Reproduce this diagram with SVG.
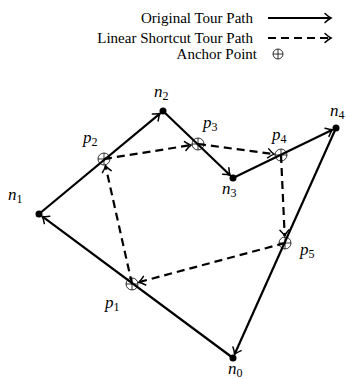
<svg xmlns="http://www.w3.org/2000/svg" width="346" height="379" viewBox="0 0 346 379">
<style>
text{font-family:'Liberation Serif','DejaVu Serif','Times New Roman',Times,serif}
.t{font-size:15px;fill:#000}
.m{font-size:17px;font-style:italic;fill:#000}
.s{font-size:12px;font-style:normal}
.e{stroke:#000;stroke-width:2.2;fill:none;marker-end:url(#ah)}
.d{stroke:#000;stroke-width:2.2;fill:none;stroke-dasharray:8 5;marker-end:url(#ah)}
.a{stroke:#000;stroke-width:0.8;fill:none}
.n{fill:#000}
</style>
<defs>
<marker id="ah" markerUnits="userSpaceOnUse" viewBox="-8 -6 10 12" markerWidth="10" markerHeight="12" refX="0" refY="0" orient="auto" overflow="visible">
<path d="M-6,-4.5 Q-2.5,-1.2 0,0 Q-2.5,1.2 -6,4.5" stroke="#000" stroke-width="1.5" fill="none" stroke-linecap="round"/>
</marker>
<g id="anchor"><circle r="6" cx="0" cy="0"/><path d="M-6,0 H6 M0,-6 V6"/></g>
</defs>
<g id="legend">
<text class="t" x="253" y="23" text-anchor="end">Original Tour Path</text>
<line class="e" x1="268" y1="18" x2="331" y2="18"/>
<text class="t" x="253" y="43" text-anchor="end">Linear Shortcut Tour Path</text>
<line class="d" x1="268" y1="38" x2="331" y2="38" stroke-dasharray="8 6"/>
<text class="t" x="257" y="59" text-anchor="end">Anchor Point</text>
<g class="a" transform="translate(278,54)"><circle r="5" cx="0" cy="0"/><path d="M-5,0 H5 M0,-5 V5"/></g>
</g>
<g id="connectors">
<line class="e" x1="233" y1="358" x2="42.2" y2="216.4"/>
<line class="e" x1="39" y1="214" x2="159.9" y2="113.6"/>
<line class="e" x1="163" y1="111" x2="230.1" y2="175.2"/>
<line class="e" x1="233" y1="178" x2="332.4" y2="129.7"/>
<line class="e" x1="336" y1="128" x2="234.6" y2="354.3"/>
<line class="d" x1="132" y1="284" x2="105.5" y2="165.8"/>
<line class="d" x1="104" y1="159" x2="191.1" y2="145.1"/>
<line class="d" x1="198" y1="144" x2="274.1" y2="154.1"/>
<line class="d" x1="281" y1="155" x2="284.7" y2="236"/>
<line class="d" x1="285" y1="243" x2="138.8" y2="282.2"/>
</g>
<g id="n0"><circle class="n" cx="233" cy="358" r="3.5"/><text class="m" x="228" y="374">n<tspan class="s" dy="3">0</tspan></text></g>
<g id="n1"><circle class="n" cx="39" cy="214" r="3.5"/><text class="m" x="8" y="200">n<tspan class="s" dy="3">1</tspan></text></g>
<g id="n2"><circle class="n" cx="163" cy="111" r="3.5"/><text class="m" x="154" y="97">n<tspan class="s" dy="3">2</tspan></text></g>
<g id="n3"><circle class="n" cx="233" cy="178" r="3.5"/><text class="m" x="222" y="194">n<tspan class="s" dy="3">3</tspan></text></g>
<g id="n4"><circle class="n" cx="336" cy="128" r="3.5"/><text class="m" x="330" y="116">n<tspan class="s" dy="3">4</tspan></text></g>
<g id="p1"><use href="#anchor" class="a" x="132" y="284"/><text class="m" x="105" y="308">p<tspan class="s" dy="3">1</tspan></text></g>
<g id="p2"><use href="#anchor" class="a" x="104" y="159"/><text class="m" x="83" y="143">p<tspan class="s" dy="3">2</tspan></text></g>
<g id="p3"><use href="#anchor" class="a" x="198" y="144"/><text class="m" x="203" y="128">p<tspan class="s" dy="3">3</tspan></text></g>
<g id="p4"><use href="#anchor" class="a" x="281" y="155"/><text class="m" x="272" y="140">p<tspan class="s" dy="3">4</tspan></text></g>
<g id="p5"><use href="#anchor" class="a" x="285" y="243"/><text class="m" x="300" y="255">p<tspan class="s" dy="3">5</tspan></text></g>
</svg>
